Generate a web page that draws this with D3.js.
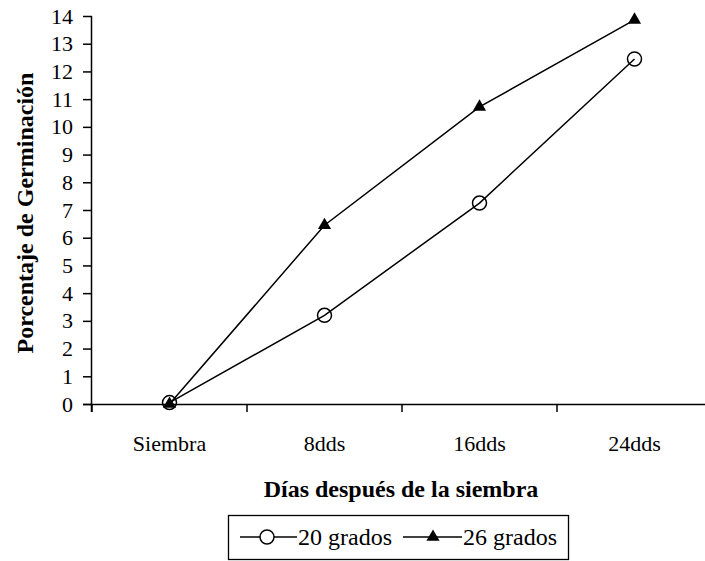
<!DOCTYPE html>
<html><head><meta charset="utf-8">
<script src="https://cdn.jsdelivr.net/npm/d3@7"></script>
<style>body{margin:0;background:#fff}svg{display:block}svg text{font-family:"Liberation Serif","Times New Roman",serif !important;fill:#000}</style>
</head><body>
<svg id="c" width="705" height="561"></svg>
<script>
const categories = ["Siembra", "8dds", "16dds", "24dds"];
const yTicks = [0,1,2,3,4,5,6,7,8,9,10,11,12,13,14];
const series20 = [0.05, 3.2, 7.25, 12.45];
const series26 = [0.0, 6.45, 10.72, 13.86];
const seriesNames = ["20 grados", "26 grados"];

const FS = 22;
const svg = d3.select("#c");
const x0 = 92, x1 = 712, yTop = 16, yBot = 404;
const x = d3.scaleBand().domain(categories).range([x0, x1]).padding(0);
const y = d3.scaleLinear().domain([0, 14]).range([yBot, yTop]);

// Y axis
const ya = svg.append("g").attr("transform", `translate(${x0},0)`)
  .call(d3.axisLeft(y).tickValues(yTicks).tickSize(9).tickPadding(10).tickFormat(d3.format("d")));
ya.select(".domain").attr("d", `M-0.5,${yTop}V${yBot+8}`).attr("stroke", "#000").attr("stroke-width", 1.5);
ya.selectAll(".tick line").attr("stroke", "#000").attr("stroke-width", 1.5);
ya.selectAll(".tick text").attr("font-size", FS).attr("fill", "#000");

// X axis
const xa = svg.append("g").attr("transform", `translate(0,${yBot})`)
  .call(d3.axisBottom(x).tickSize(0).tickPadding(31));
xa.select(".domain").remove();
xa.append("path").attr("d", `M${x0-9},0.5H${x1}`).attr("stroke", "#000").attr("stroke-width", 1.5).attr("fill", "none");
xa.selectAll(".tick text").attr("font-size", FS).attr("fill", "#000");
categories.forEach((c) => {
  xa.append("line").attr("x1", x(c)).attr("x2", x(c)).attr("y1", 0).attr("y2", 8).attr("stroke", "#000").attr("stroke-width", 1.5);
});
xa.append("line").attr("x1", x1).attr("x2", x1).attr("y1", 0).attr("y2", 8).attr("stroke", "#000").attr("stroke-width", 1.5);

// titles
svg.append("text").attr("transform", `translate(27,213) rotate(-90)`).attr("text-anchor", "middle")
  .attr("font-weight", "bold").attr("font-size", 24).attr("dominant-baseline", "middle").text("Porcentaje de Germinación");
svg.append("text").attr("x", 401).attr("y", 497).attr("text-anchor", "middle")
  .attr("font-weight", "bold").attr("font-size", 24).text("Días después de la siembra");

// lines
const line = d3.line().x((d, i) => x(categories[i]) + x.bandwidth() / 2).y(d => y(d));
svg.append("path").datum(series20).attr("d", line).attr("fill", "none").attr("stroke", "#000").attr("stroke-width", 1.5);
svg.append("path").datum(series26).attr("d", line).attr("fill", "none").attr("stroke", "#000").attr("stroke-width", 1.5);

const tri = d3.symbol().type(d3.symbolTriangle).size(75);
svg.selectAll(".c20").data(series20).enter().append("circle")
  .attr("cx", (d, i) => x(categories[i]) + x.bandwidth() / 2).attr("cy", d => y(d)).attr("r", 7)
  .attr("fill", "none").attr("stroke", "#000").attr("stroke-width", 1.5);
svg.selectAll(".t26").data(series26).enter().append("path").attr("d", tri)
  .attr("transform", (d, i) => `translate(${x(categories[i]) + x.bandwidth() / 2},${y(d)})`).attr("fill", "#000");

// legend
const lg = svg.append("g");
lg.append("rect").attr("x", 228.5).attr("y", 515.5).attr("width", 340).attr("height", 44).attr("fill", "none").attr("stroke", "#000").attr("stroke-width", 1.3);
const ly = 537;
lg.append("line").attr("x1", 240).attr("x2", 297).attr("y1", ly).attr("y2", ly).attr("stroke", "#000").attr("stroke-width", 1.5);
lg.append("circle").attr("cx", 267).attr("cy", ly).attr("r", 7).attr("fill", "#fff").attr("stroke", "#000").attr("stroke-width", 1.5);
lg.append("text").attr("x", 298).attr("y", ly + 8).attr("font-size", 24).text(seriesNames[0]);
lg.append("line").attr("x1", 403).attr("x2", 462).attr("y1", ly).attr("y2", ly).attr("stroke", "#000").attr("stroke-width", 1.5);
lg.append("path").attr("d", tri).attr("transform", `translate(433,${ly})`).attr("fill", "#000");
lg.append("text").attr("x", 463).attr("y", ly + 8).attr("font-size", 24).text(seriesNames[1]);
</script>
</body></html>
